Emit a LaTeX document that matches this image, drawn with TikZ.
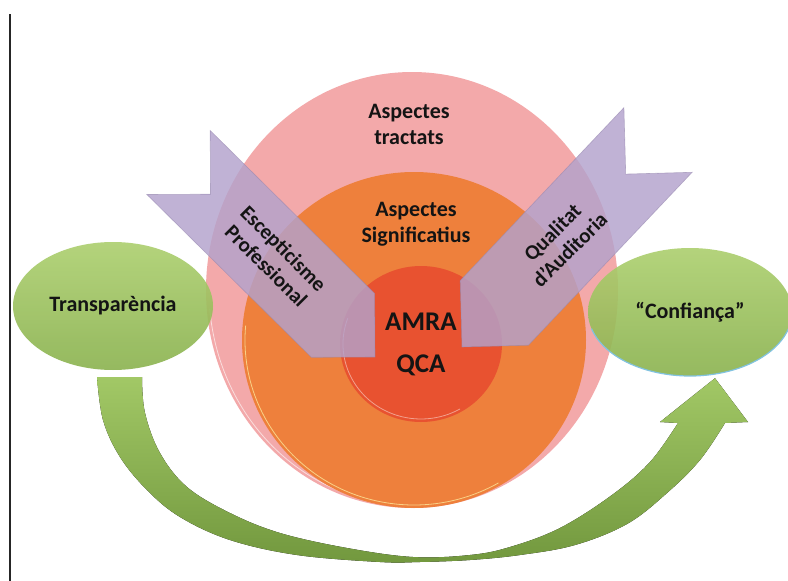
\documentclass[tikz,border=0pt]{standalone}
\usepackage{fontspec}
\setmainfont{Carlito}
\usetikzlibrary{shapes.geometric,calc}
\definecolor{pinkc}{RGB}{243,169,170}
\definecolor{orangec}{RGB}{238,128,60}
\definecolor{redc}{RGB}{232,82,48}
\definecolor{lav}{RGB}{179,162,204}
\definecolor{lavedge}{RGB}{150,135,175}
\definecolor{gtop}{RGB}{172,207,110}
\definecolor{gbot}{RGB}{138,178,78}
\definecolor{atop}{RGB}{162,200,102}
\definecolor{abot}{RGB}{114,152,62}
\definecolor{txt}{RGB}{20,20,20}
\definecolor{rimblue}{RGB}{130,195,225}
\begin{document}
\begin{tikzpicture}[x=1pt,y=-1pt,
  disc/.style={ellipse, inner sep=0pt, outer sep=0pt},
  lbl/.style={font=\bfseries\fontsize{22}{26}\selectfont, text=txt, align=center},
  oval/.style={ellipse, inner sep=0pt, minimum width=200pt, minimum height=128pt,
    top color=gtop, bottom color=gbot, fill opacity=0.9, text opacity=1,
    font=\bfseries\fontsize{22}{26}\selectfont, text=txt},
  chev/.style={fill=lav, fill opacity=0.82, draw=lavedge, draw opacity=0.6, line width=0.6pt, line join=miter},
  chevtxt/.style={font=\bfseries\fontsize{21}{24.5}\selectfont, text=txt, align=center},
]
\clip (0,0) rectangle (788,581);
\fill[white] (0,0) rectangle (788,581);
\coordinate (lineTop) at (9.5,14);
\coordinate (lineBot) at (9.5,581);
\draw[line width=2pt, black!85] (lineTop) -- (lineBot);

% concentric discs
\node[disc, fill=pinkc, minimum width=412pt, minimum height=436pt] (tract) at (412,290) {};
\draw[white!60!pinkc, line width=0.8pt] ([shift={(185:203pt and 215pt)}]tract.center) arc[start angle=185, end angle=285, x radius=203pt, y radius=215pt];
\node[disc, fill=orangec, minimum width=344pt, minimum height=336pt] (signif) at (414,340) {};
\draw[white!55!orangec!80!yellow, line width=0.8pt] ([shift={(175:169pt and 165pt)}]signif.center) arc[start angle=175, end angle=300, x radius=169pt, y radius=165pt];
\node[disc, fill=redc, minimum width=162pt, minimum height=156pt] (core) at (421,344) {};
\draw[white!45!redc, line width=0.8pt] ([shift={(160:78pt and 75pt)}]core.center) arc[start angle=160, end angle=300, x radius=78pt, y radius=75pt];

\node[lbl] (tTract) at (409,124) {Aspectes\\tractats};
\node[lbl] (tSig) at (416,224) {Aspectes\\Significatius};
\node[lbl, font=\bfseries\fontsize{27}{42}\selectfont] (tCore) at (421,344) {AMRA\\QCA};

% green ovals
\node[oval] (trans) at (113,306) {Transparència};
\node[oval, minimum width=204pt] (conf) at (690,312) {“Confiança”};
\draw[rimblue, line width=1.2pt] ([shift={(195:102pt and 64pt)}]conf.center) arc[start angle=195, end angle=345, x radius=102pt, y radius=64pt];

% curved green arrow from Transparència to Confiança
\coordinate (aS1) at ($(trans.south)+(-16,7)$);
\coordinate (aS2) at ($(trans.south)+(29,7)$);
\coordinate (aTip) at ($(conf.south)+(25,2)$);
\fill[top color=atop, bottom color=abot] (aS1) -- (aS2)
  -- plot[smooth, tension=0.6] coordinates {(142,377) (145,413) (160,453) (187,487) (230,513) (280,533) (347,548) (413,557) (470,555) (510,547) (560,528) (612,495) (650,462) (678,423)}
  -- (660,422) -- (aTip) -- (748,422) -- (725,423)
  -- plot[smooth, tension=0.6] coordinates {(725,423) (700,460) (667,493) (627,524) (575,545) (520,555) (470,560) (420,562) (380,562) (297,555) (230,540) (180,517) (147,490) (120,457) (103,420) (97,377)}
  -- cycle;

% chevrons
\path[chev] (210.2,130.5) -- (374.6,293.4) -- (375,357) -- (311.4,357.3) -- (146.9,194.5) -- (210.5,194.2) -- cycle;
\node[chevtxt, rotate=-45] (escep) at (275,257) {Escepticisme\\Professional};
\path[chev] (623.9,107.7) -- (460.2,280.6) -- (462,347) -- (528.4,345.2) -- (692.1,172.3) -- (625.7,174.1) -- cycle;
\node[chevtxt, rotate=45] (qual) at (561,241) {Qualitat\\d'Auditoria};
\end{tikzpicture}
\end{document}
